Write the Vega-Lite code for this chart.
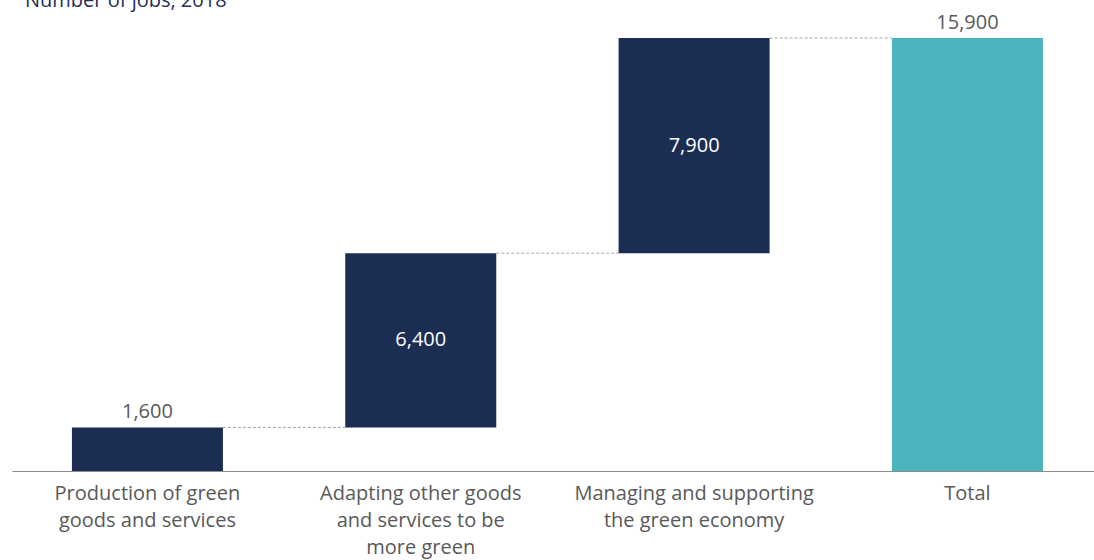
{
  "$schema": "https://vega.github.io/schema/vega-lite/v6.json",
  "autosize": {"type": "none"},
  "width": 1082,
  "height": 433,
  "padding": {"left": 12, "top": 38, "right": 0, "bottom": 89},
  "background": "white",
  "title": {
    "text": "Number of jobs, 2018",
    "anchor": "start",
    "frame": "group",
    "orient": "top",
    "baseline": "alphabetic",
    "offset": 12,
    "dy": 26,
    "dx": 13,
    "font": "Open Sans",
    "fontSize": 20,
    "fontWeight": "normal",
    "color": "#1F2E55"
  },
  "data": {
    "values": [
      {"cat": "Production of green|goods and services", "next": "Adapting other goods|and services to be|more green", "start": 0, "end": 1600, "value": 1600, "type": "step", "pos": "above"},
      {"cat": "Adapting other goods|and services to be|more green", "next": "Managing and supporting|the green economy", "start": 1600, "end": 8000, "value": 6400, "type": "step", "pos": "inside"},
      {"cat": "Managing and supporting|the green economy", "next": "Total", "start": 8000, "end": 15900, "value": 7900, "type": "step", "pos": "inside"},
      {"cat": "Total", "next": null, "start": 0, "end": 15900, "value": 15900, "type": "total", "pos": "above"}
    ]
  },
  "encoding": {
    "x": {
      "field": "cat",
      "type": "nominal",
      "sort": null,
      "scale": {
        "domain": ["Production of green|goods and services", "Adapting other goods|and services to be|more green", "Managing and supporting|the green economy", "Total"],
        "paddingInner": 0.4475,
        "paddingOuter": 0.203,
        "align": 0.54
      },
      "axis": {
        "title": null,
        "labelAngle": 0,
        "labelExpr": "split(datum.label, '|')",
        "labelFont": "Open Sans",
        "labelFontSize": 20,
        "labelColor": "#595959",
        "labelLineHeight": 27,
        "labelPadding": 12,
        "labelLimit": 400,
        "ticks": false,
        "domainColor": "#8C8C8C",
        "domainWidth": 1
      }
    }
  },
  "layer": [
    {
      "mark": {"type": "bar", "strokeWidth": 0},
      "encoding": {
        "y": {
          "field": "start",
          "type": "quantitative",
          "scale": {"domain": [0, 15900], "nice": false, "zero": true},
          "axis": null
        },
        "y2": {"field": "end"},
        "color": {
          "field": "type",
          "type": "nominal",
          "scale": {"domain": ["step", "total"], "range": ["#1C2D54", "#4BB5BF"]},
          "legend": null
        }
      }
    },
    {
      "transform": [{"filter": "datum.next != null"}],
      "mark": {"type": "rule", "color": "#A6A6A6", "strokeWidth": 1, "strokeDash": [3, 2]},
      "encoding": {
        "x": {"field": "cat", "type": "nominal", "bandPosition": 1},
        "x2": {"field": "next", "bandPosition": 0},
        "y": {"field": "end", "type": "quantitative"}
      }
    },
    {
      "transform": [{"filter": "datum.pos == 'above'"}],
      "mark": {"type": "text", "baseline": "alphabetic", "dy": -9, "font": "Open Sans", "fontSize": 20, "color": "#595959"},
      "encoding": {
        "y": {"field": "end", "type": "quantitative"},
        "text": {"field": "value", "type": "quantitative", "format": ","}
      }
    },
    {
      "transform": [
        {"filter": "datum.pos == 'inside'"},
        {"calculate": "(datum.start + datum.end) / 2", "as": "labelPos"}
      ],
      "mark": {"type": "text", "baseline": "middle", "font": "Open Sans", "fontSize": 20, "color": "#FFFFFF"},
      "encoding": {
        "y": {"field": "labelPos", "type": "quantitative"},
        "text": {"field": "value", "type": "quantitative", "format": ","}
      }
    }
  ],
  "config": {
    "view": {"stroke": null}
  }
}
